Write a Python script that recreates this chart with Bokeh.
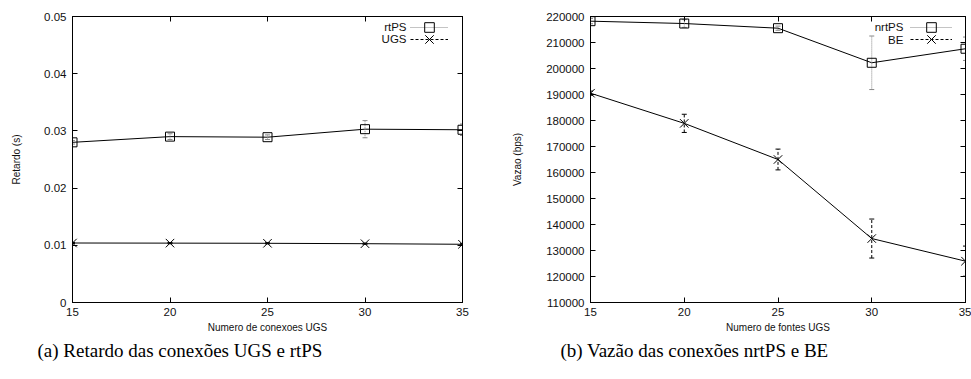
from bokeh.plotting import figure
from bokeh.layouts import row
from bokeh.models import (Title, Label, Legend, LegendItem, FixedTicker,
                          LinearAxis, Range1d, ColumnDataSource)
from bokeh.embed import file_html
from bokeh.resources import INLINE

# ---------------- data ----------------
x_vals = [15, 20, 25, 30, 35]
x_ticks = [15, 20, 25, 30, 35]

rtps_delay = [0.0280, 0.0290, 0.0289, 0.0303, 0.0302]
rtps_err = [0.0003, 0.0005, 0.0004, 0.0015, 0.0010]
ugs_delay = [0.01040, 0.01038, 0.01035, 0.01028, 0.01018]
ugs_err = [0.0001, 0.0001, 0.0001, 0.0001, 0.0001]
delay_ticks = [0, 0.01, 0.02, 0.03, 0.04, 0.05]
delay_tick_labels = ["0", "0.01", "0.02", "0.03", "0.04", "0.05"]

nrtps_thr = [218200, 217300, 215500, 202200, 207600]
nrtps_err = [1000, 1500, 800, 10300, 4500]
be_thr = [190500, 178900, 165000, 134600, 125900]
be_err = [800, 3500, 4000, 7500, 5800]
thr_ticks = [110000, 120000, 130000, 140000, 150000, 160000,
             170000, 180000, 190000, 200000, 210000, 220000]
thr_tick_labels = [str(t) for t in thr_ticks]

FONT = "Liberation Sans"
TICK_SIZE = "11.5px"


def style_axes(p, yticks, ylabels, xlabel, ylabel, ylab_standoff):
    for ax in p.xaxis + p.yaxis:
        ax.major_tick_in = 5
        ax.major_tick_out = 0
        ax.minor_tick_in = 0
        ax.minor_tick_out = 0
        ax.axis_line_color = "black"
        ax.major_tick_line_color = "black"
        ax.major_label_text_font = FONT
        ax.major_label_text_font_size = TICK_SIZE
        ax.major_label_text_color = "#111111"
        ax.axis_label_text_font = FONT
        ax.axis_label_text_font_size = "10px"
        ax.axis_label_text_font_style = "normal"
        ax.axis_label_text_color = "#111111"
    p.xaxis.ticker = FixedTicker(ticks=x_ticks)
    p.yaxis.ticker = FixedTicker(ticks=yticks)
    p.yaxis.major_label_overrides = {t: l for t, l in zip(yticks, ylabels)}
    p.xaxis.axis_label = xlabel
    p.yaxis.axis_label = ylabel
    p.xaxis.major_label_standoff = 5
    p.xaxis.axis_label_standoff = 3
    p.yaxis.major_label_standoff = 6
    p.yaxis.axis_label_standoff = ylab_standoff
    # mirrored ticks (no labels)
    top = LinearAxis(ticker=FixedTicker(ticks=x_ticks), major_tick_in=5,
                     major_tick_out=0, minor_tick_in=0, minor_tick_out=0,
                     major_label_text_color=None, major_label_text_font_size="1px",
                     major_label_standoff=0, axis_line_color="black")
    right = LinearAxis(ticker=FixedTicker(ticks=yticks), major_tick_in=5,
                       major_tick_out=0, minor_tick_in=0, minor_tick_out=0,
                       major_label_text_color=None, major_label_text_font_size="1px",
                       major_label_standoff=0, axis_line_color="black")
    p.add_layout(top, "above")
    p.add_layout(right, "right")
    p.xgrid.visible = False
    p.ygrid.visible = False
    p.outline_line_color = "black"


def add_series(p, y, err, marker, msize, ebar_color, ebar_dash):
    lo = [v - e for v, e in zip(y, err)]
    hi = [v + e for v, e in zip(y, err)]
    src = ColumnDataSource(dict(x=x_vals, y=y, lo=lo, hi=hi))
    p.line("x", "y", source=src, line_color="black", line_width=1)
    seg = p.segment("x", "lo", "x", "hi", source=src, line_color=ebar_color,
                    line_width=1, line_dash=ebar_dash)
    p.scatter("x", "lo", source=src, marker="dash", size=5,
              line_color=ebar_color, line_width=1)
    p.scatter("x", "hi", source=src, marker="dash", size=5,
              line_color=ebar_color, line_width=1)
    mk = p.scatter("x", "y", source=src, marker=marker, size=msize,
                   line_color="black", fill_color=None, line_width=1)
    return seg, mk


def add_legend(p, seg, mk, x, y, w, h):
    leg = Legend(items=[LegendItem(label="", renderers=[seg, mk])],
                 location=(x, y), glyph_width=w, glyph_height=h,
                 label_width=0, label_standoff=0, padding=0, margin=0,
                 spacing=0, background_fill_alpha=0, border_line_color=None)
    p.add_layout(leg)


def add_legend_text(p, x, y, text):
    p.add_layout(Label(x=x, y=y, text=text, text_align="right",
                       text_baseline="middle", text_font=FONT,
                       text_font_size=TICK_SIZE, text_color="#111111"))


def add_caption(p, text, offset):
    p.add_layout(Title(text=text, align="left", offset=offset,
                       text_font="Liberation Serif", text_font_size="19px",
                       text_font_style="normal", text_color="black",
                       standoff=5), "below")


# ---------------- left figure ----------------
p1 = figure(width=485, height=379, output_backend="svg", toolbar_location=None,
            x_range=Range1d(15, 35), y_range=Range1d(0, 0.05),
            min_border_left=72, min_border_right=23, min_border_top=16,
            min_border_bottom=77, background_fill_color="white",
            border_fill_color="white")
style_axes(p1, delay_ticks, delay_tick_labels, "Numero de conexoes UGS",
           "Retardo (s)", 19)
s1, m1 = add_series(p1, rtps_delay, rtps_err, "square", 9, "#888888", "1 1")
s2, m2 = add_series(p1, ugs_delay, ugs_err, "x", 12, "black", "3 2")
add_legend(p1, s1, m1, 338, 263, 38, 24)
add_legend(p1, s2, m2, 338, 248, 38, 30)
add_legend_text(p1, 32.13, 0.0481, "rtPS")
add_legend_text(p1, 32.13, 0.0460, "UGS")
add_caption(p1, "(a) Retardo das conexões UGS e rtPS", -35)

# ---------------- right figure ----------------
p2 = figure(width=486, height=379, output_backend="svg", toolbar_location=None,
            x_range=Range1d(15, 35), y_range=Range1d(110000, 220000),
            min_border_left=105, min_border_right=6, min_border_top=16,
            min_border_bottom=77, background_fill_color="white",
            border_fill_color="white")
style_axes(p2, thr_ticks, thr_tick_labels, "Numero de fontes UGS",
           "Vazao (bps)", 20)
s3, m3 = add_series(p2, nrtps_thr, nrtps_err, "square", 9, "#888888", "1 1")
s4, m4 = add_series(p2, be_thr, be_err, "x", 12, "black", "3 2")
add_legend(p2, s3, m3, 320, 263, 42, 24)
add_legend(p2, s4, m4, 320, 248, 42, 30)
add_legend_text(p2, 31.69, 215770, "nrtPS")
add_legend_text(p2, 31.69, 211150, "BE")
add_caption(p2, "(b) Vazão das conexões nrtPS e BE", -30)

layout = row(p1, p2, spacing=0)
open("out.html", "w").write(file_html(layout, INLINE))
